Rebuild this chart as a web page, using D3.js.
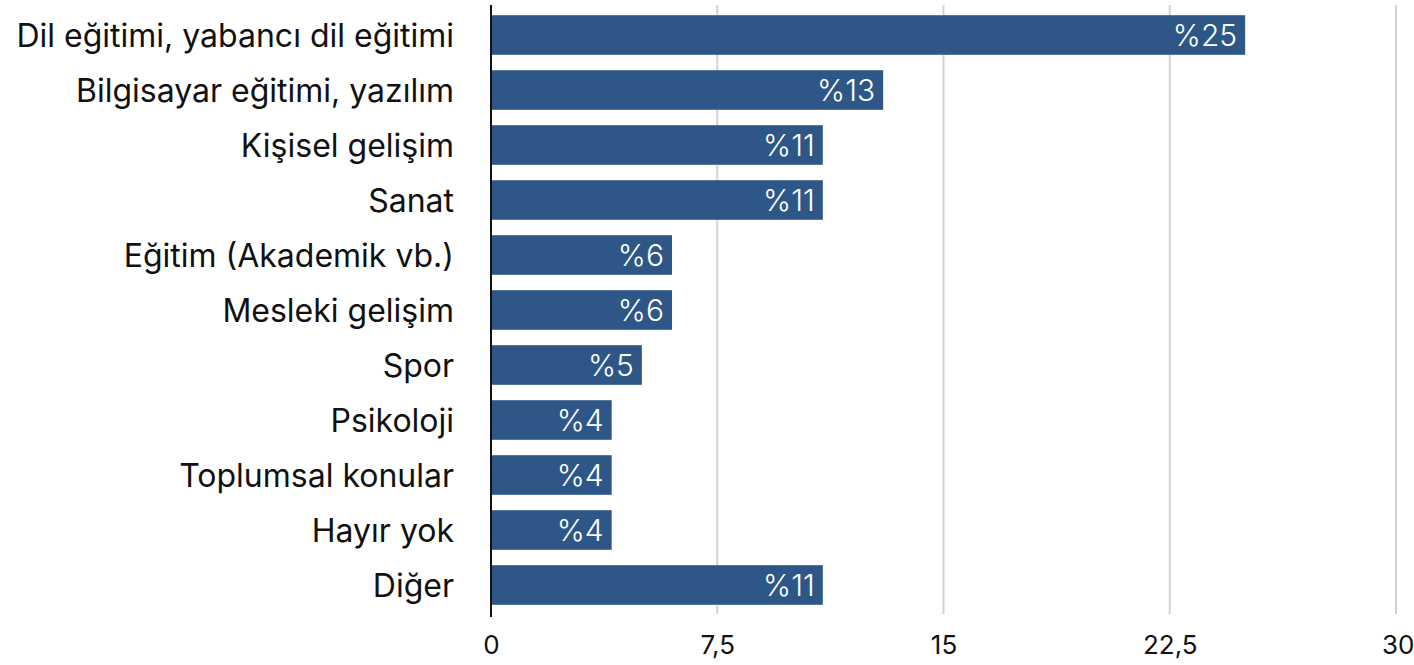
<!DOCTYPE html>
<html>
<head>
<meta charset="utf-8">
<script src="https://cdn.jsdelivr.net/npm/d3@7"></script>
<style>
  html, body { margin: 0; padding: 0; background: #fff; }
  svg { display: block; }
</style>
</head>
<body>
<svg id="chart" width="1414" height="665"></svg>
<script>
// Eğitim konuları, yüzde
const categories = [
  "Dil eğitimi, yabancı dil eğitimi",
  "Bilgisayar eğitimi, yazılım",
  "Kişisel gelişim",
  "Sanat",
  "Eğitim (Akademik vb.)",
  "Mesleki gelişim",
  "Spor",
  "Psikoloji",
  "Toplumsal konular",
  "Hayır yok",
  "Diğer"
];
const values = [25, 13, 11, 11, 6, 6, 5, 4, 4, 4, 11];
const tickValues = [0, 7.5, 15, 22.5, 30];
const tickLabels = ["0", "7,5", "15", "22,5", "30"];

const svg = d3.select("#chart");
const font = "Inter, 'Noto Sans', sans-serif";

const x = d3.scaleLinear().domain([0, 30]).range([491, 1396]);
const y = d3.scaleBand().domain(categories).range([7.5, 612.5]).paddingInner(0.28).paddingOuter(0.14);

// dikey kılavuz çizgileri
svg.append("g")
  .selectAll("line")
  .data(tickValues.filter(d => d > 0))
  .join("line")
  .attr("x1", d => x(d)).attr("x2", d => x(d))
  .attr("y1", 5).attr("y2", 614)
  .attr("stroke", "#d3d3d3").attr("stroke-width", 2);

// çubuklar
svg.append("g")
  .selectAll("rect")
  .data(values)
  .join("rect")
  .attr("x", x(0))
  .attr("y", (d, i) => y(categories[i]))
  .attr("width", d => x(d) - x(0))
  .attr("height", y.bandwidth())
  .attr("fill", "#2e5788");

// değer etiketleri
svg.append("g")
  .selectAll("text")
  .data(values)
  .join("text")
  .attr("x", d => x(d) - 8)
  .attr("y", (d, i) => y(categories[i]) + y.bandwidth() / 2)
  .attr("dy", "0.36em")
  .attr("text-anchor", "end")
  .attr("fill", "#fff")
  .style("font-family", font)
  .style("font-weight", 300)
  .style("font-size", "30px")
  .text(d => "%" + d);

// kategori ekseni
svg.append("line")
  .attr("x1", x(0)).attr("x2", x(0))
  .attr("y1", 5).attr("y2", 617)
  .attr("stroke", "#111").attr("stroke-width", 2);

svg.append("g")
  .selectAll("text")
  .data(categories)
  .join("text")
  .attr("x", 454)
  .attr("y", d => y(d) + y.bandwidth() / 2)
  .attr("dy", "0.36em")
  .attr("text-anchor", "end")
  .attr("fill", "#111")
  .style("font-family", font)
  .style("font-size", "32px")
  .text(d => d);

// değer ekseni etiketleri
const xAxis = d3.axisBottom(x)
  .tickValues(tickValues)
  .tickFormat((d, i) => tickLabels[i])
  .tickSize(0)
  .tickPadding(0);

const gx = svg.append("g").attr("transform", "translate(0,636)").call(xAxis);
gx.select(".domain").remove();
gx.selectAll("text")
  .attr("dy", "0.71em")
  .attr("fill", "#111")
  .style("font-family", font)
  .style("font-size", "26px");
gx.selectAll(".tick").filter(d => d === 30).select("text").attr("text-anchor", "end").attr("dx", 18);
</script>
</body>
</html>
